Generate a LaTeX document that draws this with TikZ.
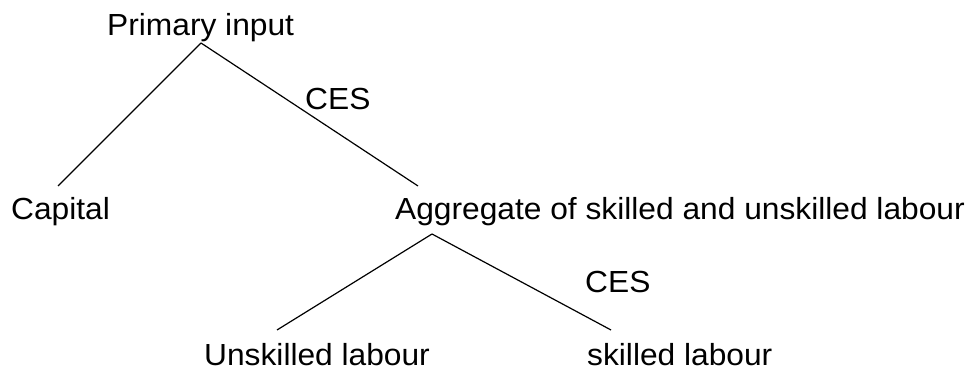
\documentclass[tikz,border=0pt]{standalone}
\usepackage{fontspec}
\setmainfont[FakeStretch=1.04]{Liberation Sans}
\begin{document}
\begin{tikzpicture}[x=1pt,y=1pt,
  lbl/.style={inner sep=0pt,anchor=base west,font=\fontsize{30.5}{36}\selectfont},
  branch/.style={line width=1.2pt,black}]
\useasboundingbox (0,0) rectangle (971,371);
\node[lbl] (primary) at (107,335) {Primary input};
\node[lbl] (ces1) at (305,261) {CES};
\node[lbl] (capital) at (11,151) {Capital};
\node[lbl] (aggregate) at (395,151) {Aggregate of skilled and unskilled labour};
\node[lbl] (ces2) at (585,78) {CES};
\node[lbl] (unskilled) at (204,5) {Unskilled labour};
\node[lbl] (skilled) at (587,5) {skilled labour};
\coordinate (apex1) at (201,328);
\coordinate (capend) at (58,185);
\coordinate (aggend) at (418,185);
\coordinate (apex2) at (432,137);
\coordinate (unend) at (277,41);
\coordinate (skend) at (611,41);
\draw[branch] (apex1) -- (capend);
\draw[branch] (apex1) -- (aggend);
\draw[branch] (apex2) -- (unend);
\draw[branch] (apex2) -- (skend);
\end{tikzpicture}
\end{document}
